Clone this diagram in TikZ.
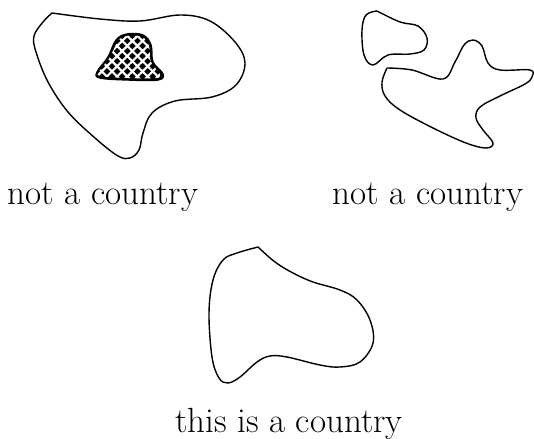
\documentclass[tikz,border=0pt]{standalone}
\usepackage{tikz}
\usetikzlibrary{patterns.meta}

\begin{document}
\begin{tikzpicture}[x=0.5pt,y=-0.5pt,
    borderline/.style={line width=0.7pt,black},
    enclave/.style={line width=0.7pt,fill=black},
    weave/.style={pattern={Lines[angle=#1,distance=3.6pt,line width=1.1pt]},pattern color=white},
    caption/.style={anchor=base,inner sep=0pt,font=\fontsize{17.5}{20}\selectfont}]
  \useasboundingbox (0,0) rectangle (534,438);
  % country with a hole
  \draw[borderline] plot[smooth,tension=0.6] coordinates {(52,13) (100,19) (140,21) (180,15)
    (210,21) (235,42) (245,63) (236,85) (212,97) (175,101) (152,113) (143,133) (139,150)
    (130,158) (118,156) (95,138) (68,112) (48,82) (36,52) (34,36) (43,22) (52,13)};
  \draw[enclave] plot[smooth cycle,tension=0.6] coordinates {(127,34) (143,35) (151,45)
    (153,62) (163,74) (158,80) (128,80) (100,78) (97,72) (108,57) (116,40)};
  \fill[weave=45] plot[smooth cycle,tension=0.6] coordinates {(127,36) (142,37) (149,46)
    (151,62) (160,74) (156,78) (128,78) (101,76) (99,72) (110,57) (118,41)};
  \fill[weave=-45] plot[smooth cycle,tension=0.6] coordinates {(127,36) (142,37) (149,46)
    (151,62) (160,74) (156,78) (128,78) (101,76) (99,72) (110,57) (118,41)};
  % country in two pieces
  \draw[borderline] plot[smooth,tension=0.6] coordinates {(377,11) (400,22) (418,26) (427,38)
    (424,50) (410,54) (388,55) (373,65) (364,55) (362,30) (366,15) (377,11)};
  \draw[borderline] plot[smooth,tension=0.6] coordinates {(387,68) (412,70) (443,79) (455,62)
    (464,45) (473,40) (482,46) (488,63) (500,70) (530,70) (532,77) (525,84) (500,96)
    (480,107) (476,118) (483,130) (493,143) (486,148) (466,143) (433,128) (400,110)
    (385,96) (382,82) (387,68)};
  % a real country
  \draw[borderline] plot[smooth,tension=0.6] coordinates {(258,247) (275,262) (293,273)
    (313,282) (340,290) (357,300) (370,320) (373,343) (360,362) (340,367) (320,365)
    (287,357) (270,356) (257,362) (240,377) (228,383) (219,378) (212,357) (209,313)
    (213,280) (223,260) (237,253) (258,247)};
  \node[caption] (holed) at (103,205) {not a country};
  \node[caption] (split) at (428,205) {not a country};
  \node[caption] (whole) at (289,432) {this is a country};
\end{tikzpicture}
\end{document}
